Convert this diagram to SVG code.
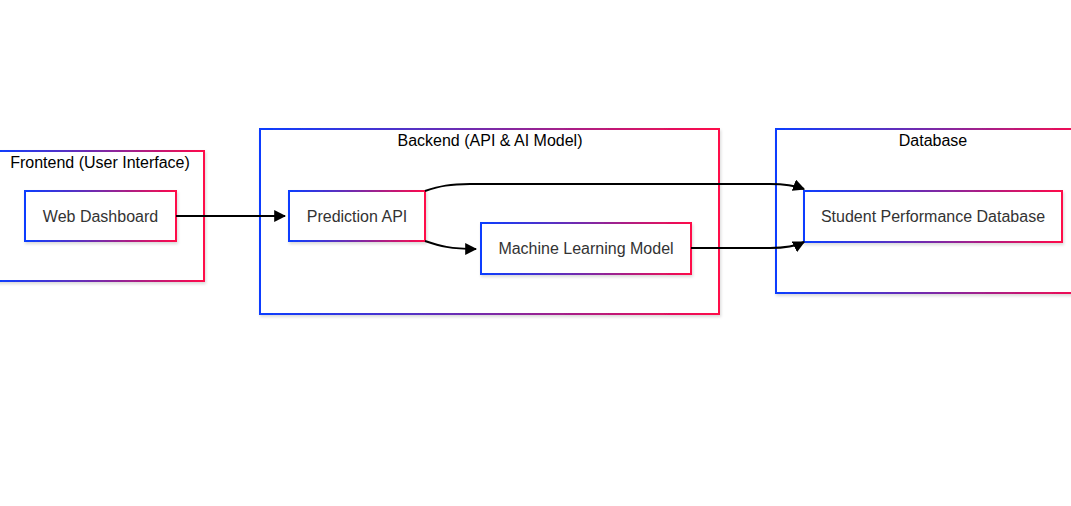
<svg xmlns="http://www.w3.org/2000/svg" width="1071" height="506" viewBox="0 0 1071 506">
<defs>
<linearGradient id="g" x1="0" y1="0" x2="1" y2="0">
<stop offset="0" stop-color="#0b3dff"/>
<stop offset="0.5" stop-color="#7a2aa8"/>
<stop offset="1" stop-color="#ff0a4a"/>
</linearGradient>
<filter id="sh" x="-5%" y="-10%" width="110%" height="130%">
<feDropShadow dx="1" dy="2" stdDeviation="1.5" flood-color="#000" flood-opacity="0.15"/>
</filter>
<marker id="arr" viewBox="0 0 10 10" refX="9" refY="5" markerWidth="6" markerHeight="6" markerUnits="strokeWidth" orient="auto">
<path d="M0,0 L10,5 L0,10 z" fill="#000"/>
</marker>
</defs>
<style>
.cl{fill:#fff;stroke:url(#g);stroke-width:2;filter:url(#sh)}
.nd{fill:#fff;stroke:url(#g);stroke-width:2;filter:url(#sh)}
.ct{font-family:"Liberation Sans",Arial,sans-serif;font-size:16px;fill:#000;text-anchor:middle}
.nt{font-family:"Liberation Sans",Arial,sans-serif;font-size:16px;fill:#333;text-anchor:middle}
.e{fill:none;stroke:#000;stroke-width:2;marker-end:url(#arr)}
</style>
<rect width="1071" height="506" fill="#fff"/>
<g id="cluster-frontend">
<rect class="cl" x="-4" y="151" width="208" height="130"/>
<text class="ct" x="100" y="168">Frontend (User Interface)</text>
</g>
<g id="cluster-backend">
<rect class="cl" x="260" y="129" width="459" height="185"/>
<text class="ct" x="490" y="146">Backend (API &amp; AI Model)</text>
</g>
<g id="cluster-database">
<rect class="cl" x="776" y="129" width="314" height="164"/>
<text class="ct" x="933" y="146">Database</text>
</g>
<g id="node-web">
<rect class="nd" x="25" y="191" width="151" height="50"/>
<text class="nt" x="100.5" y="222">Web Dashboard</text>
</g>
<g id="node-api">
<rect class="nd" x="289" y="191" width="136" height="50"/>
<text class="nt" x="357" y="222">Prediction API</text>
</g>
<g id="node-ml">
<rect class="nd" x="481" y="223" width="210" height="51"/>
<text class="nt" x="586" y="254">Machine Learning Model</text>
</g>
<g id="node-db">
<rect class="nd" x="804" y="191" width="258" height="51"/>
<text class="nt" x="933" y="222">Student Performance Database</text>
</g>
<g id="connectors">
<path class="e" d="M176,216 L285,216"/>
<path class="e" d="M425,191 C440,186 450,184 470,184 L770,184 C788,184 796,186 804,189"/>
<path class="e" d="M425,241 C440,246 450,249 476,249"/>
<path class="e" d="M691,248 L770,248 C788,248 796,246 804,242"/>
</g>
</svg>
